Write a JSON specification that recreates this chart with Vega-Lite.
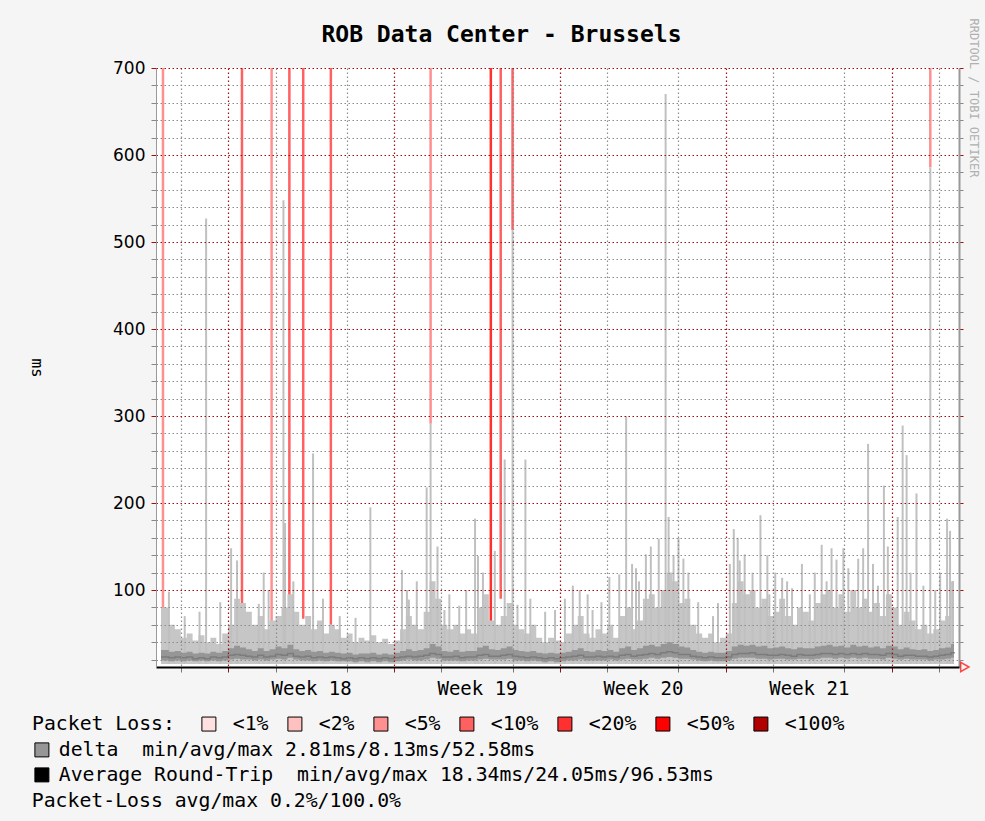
{
  "$schema": "https://vega.github.io/schema/vega-lite/v6.json",
  "width": 803,
  "height": 599,
  "autosize": "none",
  "padding": {"left": 156, "top": 68, "right": 26, "bottom": 154},
  "background": "#f5f5f5",
  "title": {"text": "ROB Data Center - Brussels", "font": "DejaVu Sans Mono", "fontSize": 23, "fontWeight": "bold", "color": "#000000", "anchor": "middle", "frame": "group", "dx": -56, "baseline": "alphabetic", "offset": -47},
  "config": {
    "view": {"fill": "#ffffff", "stroke": null},
    "legend": {"labelFont": "DejaVu Sans Mono", "labelFontSize": 19.8, "labelColor": "#000000", "titleFont": "DejaVu Sans Mono", "titleFontSize": 19.8, "titleFontWeight": "normal", "titleColor": "#000000", "padding": 0, "labelLimit": 900}
  },
  "datasets": {
    "base": [
      {"t":-2.8333,"hi":80,"lo":19,"md":23,"up":31},
      {"t":-2.75,"hi":80,"lo":19,"md":23,"up":31},{"t":-2.5,"hi":60,"lo":18,"md":22,"up":29},{"t":-2.25,"hi":55,"lo":19,"md":23,"up":30},{"t":-2.0,"hi":45,"lo":18,"md":22,"up":28},
      {"t":-1.75,"hi":50,"lo":19,"md":23,"up":29},{"t":-1.5,"hi":42,"lo":18,"md":21,"up":27},{"t":-1.25,"hi":48,"lo":19,"md":22,"up":28},{"t":-1.0,"hi":40,"lo":18,"md":21,"up":27},
      {"t":-0.75,"hi":45,"lo":19,"md":23,"up":29},{"t":-0.5,"hi":38,"lo":18,"md":22,"up":28},{"t":-0.25,"hi":50,"lo":19,"md":23,"up":30},{"t":0,"hi":60,"lo":20,"md":25,"up":33},
      {"t":0.25,"hi":90,"lo":21,"md":26,"up":36},{"t":0.5,"hi":85,"lo":20,"md":25,"up":34},{"t":0.75,"hi":75,"lo":20,"md":24,"up":32},{"t":1.0,"hi":60,"lo":19,"md":23,"up":30},
      {"t":1.25,"hi":70,"lo":20,"md":25,"up":33},{"t":1.5,"hi":55,"lo":19,"md":23,"up":30},{"t":1.75,"hi":65,"lo":20,"md":24,"up":32},{"t":2.0,"hi":70,"lo":21,"md":26,"up":35},
      {"t":2.25,"hi":80,"lo":20,"md":25,"up":33},{"t":2.5,"hi":95,"lo":22,"md":27,"up":37},{"t":2.75,"hi":75,"lo":20,"md":24,"up":32},{"t":3.0,"hi":60,"lo":19,"md":23,"up":30},
      {"t":3.25,"hi":70,"lo":19,"md":24,"up":31},{"t":3.5,"hi":55,"lo":18,"md":22,"up":29},{"t":3.75,"hi":65,"lo":19,"md":23,"up":30},{"t":4.0,"hi":50,"lo":18,"md":22,"up":28},
      {"t":4.25,"hi":60,"lo":19,"md":23,"up":29},{"t":4.5,"hi":55,"lo":18,"md":22,"up":28},{"t":4.75,"hi":45,"lo":18,"md":21,"up":27},{"t":5.0,"hi":50,"lo":18,"md":22,"up":28},
      {"t":5.25,"hi":40,"lo":17,"md":21,"up":26},{"t":5.5,"hi":45,"lo":18,"md":22,"up":27},{"t":5.75,"hi":42,"lo":17,"md":21,"up":27},{"t":6.0,"hi":48,"lo":18,"md":22,"up":28},
      {"t":6.25,"hi":40,"lo":17,"md":21,"up":26},{"t":6.5,"hi":44,"lo":18,"md":22,"up":27},{"t":6.75,"hi":38,"lo":17,"md":21,"up":26},{"t":7.0,"hi":42,"lo":18,"md":22,"up":28},
      {"t":7.25,"hi":55,"lo":19,"md":23,"up":30},{"t":7.5,"hi":70,"lo":20,"md":24,"up":32},{"t":7.75,"hi":60,"lo":19,"md":23,"up":30},{"t":8.0,"hi":55,"lo":19,"md":24,"up":31},
      {"t":8.25,"hi":75,"lo":20,"md":25,"up":33},{"t":8.5,"hi":110,"lo":22,"md":27,"up":38},{"t":8.75,"hi":90,"lo":21,"md":26,"up":35},{"t":9.0,"hi":60,"lo":19,"md":23,"up":30},
      {"t":9.25,"hi":55,"lo":19,"md":23,"up":29},{"t":9.5,"hi":60,"lo":19,"md":24,"up":31},{"t":9.75,"hi":50,"lo":18,"md":22,"up":29},{"t":10.0,"hi":55,"lo":19,"md":23,"up":30},
      {"t":10.25,"hi":50,"lo":19,"md":23,"up":30},{"t":10.5,"hi":80,"lo":20,"md":25,"up":34},{"t":10.75,"hi":95,"lo":21,"md":26,"up":36},{"t":11.0,"hi":65,"lo":20,"md":24,"up":32},
      {"t":11.25,"hi":60,"lo":20,"md":24,"up":31},{"t":11.5,"hi":70,"lo":20,"md":25,"up":33},{"t":11.75,"hi":85,"lo":21,"md":26,"up":35},{"t":12.0,"hi":60,"lo":19,"md":24,"up":31},
      {"t":12.25,"hi":55,"lo":19,"md":23,"up":30},{"t":12.5,"hi":50,"lo":18,"md":22,"up":29},{"t":12.75,"hi":60,"lo":19,"md":23,"up":30},{"t":13.0,"hi":45,"lo":18,"md":22,"up":28},
      {"t":13.25,"hi":40,"lo":17,"md":21,"up":27},{"t":13.5,"hi":45,"lo":18,"md":22,"up":28},{"t":13.75,"hi":42,"lo":17,"md":21,"up":27},{"t":14.0,"hi":40,"lo":18,"md":22,"up":28},
      {"t":14.25,"hi":50,"lo":19,"md":23,"up":29},{"t":14.5,"hi":60,"lo":19,"md":24,"up":31},{"t":14.75,"hi":70,"lo":20,"md":25,"up":33},{"t":15.0,"hi":50,"lo":19,"md":23,"up":30},
      {"t":15.25,"hi":45,"lo":19,"md":23,"up":29},{"t":15.5,"hi":55,"lo":19,"md":24,"up":31},{"t":15.75,"hi":50,"lo":19,"md":23,"up":30},{"t":16.0,"hi":60,"lo":20,"md":24,"up":31},
      {"t":16.25,"hi":45,"lo":19,"md":23,"up":29},{"t":16.5,"hi":70,"lo":20,"md":25,"up":33},{"t":16.75,"hi":80,"lo":21,"md":26,"up":35},{"t":17.0,"hi":55,"lo":20,"md":24,"up":31},
      {"t":17.25,"hi":65,"lo":20,"md":25,"up":33},{"t":17.5,"hi":90,"lo":21,"md":26,"up":36},{"t":17.75,"hi":95,"lo":22,"md":27,"up":37},{"t":18.0,"hi":80,"lo":21,"md":26,"up":35},
      {"t":18.25,"hi":100,"lo":22,"md":28,"up":38},{"t":18.5,"hi":120,"lo":23,"md":29,"up":40},{"t":18.75,"hi":110,"lo":22,"md":28,"up":38},{"t":19.0,"hi":85,"lo":21,"md":26,"up":35},
      {"t":19.25,"hi":90,"lo":21,"md":26,"up":34},{"t":19.5,"hi":60,"lo":20,"md":24,"up":31},{"t":19.75,"hi":50,"lo":19,"md":23,"up":29},{"t":20.0,"hi":45,"lo":18,"md":22,"up":28},
      {"t":20.25,"hi":50,"lo":19,"md":23,"up":29},{"t":20.5,"hi":40,"lo":18,"md":22,"up":28},{"t":20.75,"hi":45,"lo":18,"md":22,"up":28},{"t":21.0,"hi":50,"lo":19,"md":23,"up":30},
      {"t":21.25,"hi":85,"lo":21,"md":26,"up":35},{"t":21.5,"hi":110,"lo":22,"md":27,"up":37},{"t":21.75,"hi":95,"lo":22,"md":27,"up":36},{"t":22.0,"hi":100,"lo":22,"md":28,"up":37},
      {"t":22.25,"hi":80,"lo":21,"md":26,"up":35},{"t":22.5,"hi":90,"lo":21,"md":26,"up":36},{"t":22.75,"hi":70,"lo":20,"md":25,"up":33},{"t":23.0,"hi":75,"lo":21,"md":25,"up":34},
      {"t":23.25,"hi":90,"lo":21,"md":26,"up":35},{"t":23.5,"hi":70,"lo":20,"md":25,"up":33},{"t":23.75,"hi":60,"lo":20,"md":24,"up":32},{"t":24.0,"hi":80,"lo":21,"md":26,"up":34},
      {"t":24.25,"hi":75,"lo":21,"md":25,"up":33},{"t":24.5,"hi":65,"lo":20,"md":25,"up":33},{"t":24.75,"hi":85,"lo":21,"md":26,"up":35},{"t":25.0,"hi":95,"lo":22,"md":27,"up":36},
      {"t":25.25,"hi":100,"lo":22,"md":27,"up":37},{"t":25.5,"hi":80,"lo":21,"md":26,"up":35},{"t":25.75,"hi":95,"lo":22,"md":27,"up":36},{"t":26.0,"hi":75,"lo":21,"md":26,"up":34},
      {"t":26.25,"hi":100,"lo":22,"md":27,"up":37},{"t":26.5,"hi":80,"lo":21,"md":26,"up":35},{"t":26.75,"hi":90,"lo":22,"md":27,"up":36},{"t":27.0,"hi":75,"lo":21,"md":26,"up":34},
      {"t":27.25,"hi":85,"lo":21,"md":26,"up":35},{"t":27.5,"hi":70,"lo":20,"md":25,"up":33},{"t":27.75,"hi":95,"lo":22,"md":27,"up":36},{"t":28.0,"hi":80,"lo":21,"md":26,"up":35},
      {"t":28.25,"hi":60,"lo":20,"md":24,"up":32},{"t":28.5,"hi":75,"lo":21,"md":25,"up":34},{"t":28.75,"hi":65,"lo":20,"md":25,"up":32},{"t":29.0,"hi":55,"lo":20,"md":24,"up":31},
      {"t":29.25,"hi":60,"lo":20,"md":24,"up":32},{"t":29.5,"hi":50,"lo":19,"md":23,"up":30},{"t":29.75,"hi":55,"lo":20,"md":24,"up":31},{"t":30.0,"hi":65,"lo":20,"md":25,"up":33},
      {"t":30.25,"hi":70,"lo":21,"md":26,"up":34},{"t":30.5,"hi":110,"lo":22,"md":28,"up":38},{"t":30.625,"hi":90,"lo":21,"md":27,"up":36}
    ],
    "spikes": [
      {"t":-2.5,"hi":98},{"t":-1.833,"hi":70},{"t":-1.208,"hi":75},{"t":-0.93,"hi":527},{"t":-0.333,"hi":86},{"t":0.125,"hi":148},{"t":0.375,"hi":134},
      {"t":1.292,"hi":84},{"t":1.5,"hi":120},{"t":1.708,"hi":100},{"t":2.333,"hi":548},{"t":2.4,"hi":177},{"t":2.75,"hi":110},{"t":3.583,"hi":257},
      {"t":4.0,"hi":90},{"t":4.708,"hi":70},{"t":5.375,"hi":68},{"t":6.0,"hi":195},{"t":7.333,"hi":123},{"t":7.542,"hi":100},{"t":7.625,"hi":89},
      {"t":7.958,"hi":110},{"t":8.375,"hi":218},{"t":8.542,"hi":291},{"t":8.833,"hi":150},{"t":9.125,"hi":77},{"t":9.333,"hi":95},{"t":9.75,"hi":82},
      {"t":10.042,"hi":100},{"t":10.417,"hi":182},{"t":10.542,"hi":139},{"t":10.75,"hi":120},{"t":11.25,"hi":145},{"t":11.667,"hi":250},{"t":12.0,"hi":514},
      {"t":12.208,"hi":83},{"t":12.542,"hi":250},{"t":12.75,"hi":90},{"t":13.375,"hi":75},{"t":13.792,"hi":77},{"t":14.208,"hi":90},{"t":14.542,"hi":105},
      {"t":14.833,"hi":100},{"t":15.167,"hi":95},{"t":15.375,"hi":77},{"t":15.75,"hi":86},{"t":16.083,"hi":115},{"t":16.5,"hi":118},{"t":16.792,"hi":300},
      {"t":17.042,"hi":130},{"t":17.208,"hi":125},{"t":17.333,"hi":110},{"t":17.625,"hi":141},{"t":17.833,"hi":150},{"t":18.167,"hi":159},{"t":18.458,"hi":670},
      {"t":18.583,"hi":184},{"t":18.792,"hi":140},{"t":19.0,"hi":160},{"t":19.208,"hi":136},{"t":19.417,"hi":120},{"t":19.833,"hi":86},{"t":20.458,"hi":70},
      {"t":20.667,"hi":85},{"t":21.167,"hi":130},{"t":21.333,"hi":170},{"t":21.5,"hi":160},{"t":21.583,"hi":134},{"t":21.792,"hi":141},{"t":22.125,"hi":120},
      {"t":22.458,"hi":186},{"t":22.75,"hi":140},{"t":22.833,"hi":95},{"t":23.083,"hi":120},{"t":23.375,"hi":114},{"t":23.583,"hi":110},{"t":23.792,"hi":102},
      {"t":24.208,"hi":130},{"t":24.542,"hi":95},{"t":24.75,"hi":120},{"t":25.042,"hi":152},{"t":25.25,"hi":110},{"t":25.458,"hi":148},{"t":25.667,"hi":135},
      {"t":25.958,"hi":148},{"t":26.167,"hi":125},{"t":26.583,"hi":136},{"t":26.792,"hi":148},{"t":27.0,"hi":268},{"t":27.208,"hi":130},{"t":27.417,"hi":105},
      {"t":27.667,"hi":220},{"t":27.833,"hi":150},{"t":28.25,"hi":184},{"t":28.458,"hi":289},{"t":28.625,"hi":255},{"t":28.792,"hi":120},{"t":29.042,"hi":211},
      {"t":29.333,"hi":105},{"t":29.625,"hi":586},{"t":29.833,"hi":100},{"t":30.042,"hi":120},{"t":30.333,"hi":182},{"t":30.458,"hi":168},{"t":30.583,"hi":110}
    ],
    "loss": [
      {"t":-2.75,"lo":71,"loss":"<5%"},{"t":0.583,"lo":63,"loss":"<10%"},{"t":1.833,"lo":52,"loss":"<5%"},{"t":2.583,"lo":77,"loss":"<10%"},
      {"t":3.167,"lo":67,"loss":"<10%"},{"t":4.333,"lo":60,"loss":"<10%"},{"t":8.542,"lo":291,"loss":"<5%"},{"t":11.083,"lo":45,"loss":"<20%"},
      {"t":11.5,"lo":90,"loss":"<10%"},{"t":12.0,"lo":514,"loss":"<10%"},{"t":29.625,"lo":586,"loss":"<5%"}
    ]
  },
  "resolve": {"axis": {"y": "independent"}},
  "layer": [
    {
      "data": {"name": "loss"},
      "mark": {"type": "bar", "size": 2.5, "orient": "vertical"},
      "encoding": {
        "x": {"field": "t", "type": "quantitative", "scale": {"domain": [-2.8333, 30.625], "nice": false, "zero": false},
          "axis": {"title": null, "zindex": 1,
            "values": [-2,-1,0,1,2,3,3.5,4,5,6,7,8,9,10,10.5,11,12,13,14,15,16,17,17.5,18,19,20,21,22,23,24,24.5,25,26,27,28,29,30],
            "labelExpr": "datum.value % 7 == 3.5 ? 'Week ' + (18 + floor(datum.value / 7)) : ''",
            "labelFont": "DejaVu Sans Mono", "labelFontSize": 19, "labelColor": "#000000", "labelPadding": 7, "labelOverlap": false, "labelFlush": false, "labelBound": false,
            "domainColor": "#000000", "domainWidth": 2, "tickSize": 5,
            "tickColor": {"condition": {"test": "datum.value % 7 == 0", "value": "#a01010"}, "value": "#777777"},
            "tickOpacity": {"condition": {"test": "datum.value % 7 == 3.5", "value": 0}, "value": 1},
            "grid": true,
            "gridColor": {"condition": {"test": "datum.value % 7 == 0", "value": "#a01010"}, "value": "#8c8c8c"},
            "gridOpacity": {"condition": {"test": "datum.value % 7 == 3.5", "value": 0}, "value": 1},
            "gridDash": [1.5, 2.5], "gridWidth": 1.2}},
        "y": {"field": "lo", "type": "quantitative", "scale": {"domain": [11.5, 700], "nice": false, "zero": false},
          "axis": {"title": "ms", "zindex": 1,
            "values": [20,40,60,80,100,120,140,160,180,200,220,240,260,280,300,320,340,360,380,400,420,440,460,480,500,520,540,560,580,600,620,640,660,680,700],
            "labelExpr": "datum.value % 100 == 0 ? datum.label : ''",
            "labelFont": "DejaVu Sans", "labelFontSize": 17, "labelColor": "#000000", "labelPadding": 6, "labelOverlap": false, "labelFlush": false,
            "domainColor": "#999999", "tickSize": 5,
            "tickColor": {"condition": {"test": "datum.value % 100 == 0", "value": "#a01010"}, "value": "#888888"},
            "grid": true,
            "gridColor": {"condition": {"test": "datum.value % 100 == 0", "value": "#a01010"}, "value": "#8c8c8c"},
            "gridDash": [1.5, 2.5], "gridWidth": 1.2,
            "titleFont": "DejaVu Sans Mono", "titleFontSize": 16, "titleFontWeight": "normal", "titleColor": "#000000",
            "titleX": -120, "titleAngle": 90, "titleBaseline": "middle"}},
        "y2": {"datum": 700},
        "color": {"field": "loss", "type": "nominal",
          "scale": {"domain": ["<1%", "<2%", "<5%", "<10%", "<20%", "<50%", "<100%"], "range": ["#ffe0e0", "#ffc0c0", "#ff9090", "#ff6060", "#ff3030", "#ff0000", "#b00000"]},
          "legend": {"orient": "none", "legendX": -124, "legendY": 646, "direction": "horizontal", "title": "Packet Loss:", "titleOrient": "left", "titlePadding": 24,
            "symbolType": "square", "symbolSize": 196, "symbolStrokeColor": "#000000", "symbolStrokeWidth": 1, "symbolOpacity": 1,
            "labelOffset": 14, "columnPadding": 16}}
      }
    },
    {
      "data": {"name": "base"},
      "mark": {"type": "area", "interpolate": "step-after", "color": "#c6c6c6"},
      "encoding": {
        "x": {"field": "t", "type": "quantitative", "scale": {"domain": [-2.8333, 30.625], "nice": false, "zero": false}},
        "y": {"field": "hi", "type": "quantitative", "scale": {"domain": [11.5, 700], "nice": false, "zero": false}, "axis": null},
        "y2": {"datum": 15}
      }
    },
    {
      "data": {"name": "spikes"},
      "mark": {"type": "bar", "size": 2, "orient": "vertical", "color": "#c0c0c0"},
      "encoding": {
        "x": {"field": "t", "type": "quantitative", "scale": {"domain": [-2.8333, 30.625], "nice": false, "zero": false}},
        "y": {"field": "hi", "type": "quantitative", "scale": {"domain": [11.5, 700], "nice": false, "zero": false}, "axis": null},
        "y2": {"datum": 15}
      }
    },
    {
      "data": {"name": "base"},
      "mark": {"type": "area", "interpolate": "step-after"},
      "encoding": {
        "x": {"field": "t", "type": "quantitative", "scale": {"domain": [-2.8333, 30.625], "nice": false, "zero": false}},
        "y": {"field": "up", "type": "quantitative", "scale": {"domain": [11.5, 700], "nice": false, "zero": false}, "axis": null},
        "y2": {"field": "lo"},
        "fill": {"datum": "delta\u00a0 min/avg/max 2.81ms/8.13ms/52.58ms", "type": "nominal",
          "scale": {"domain": ["delta\u00a0 min/avg/max 2.81ms/8.13ms/52.58ms", "Average Round-Trip\u00a0 min/avg/max 18.34ms/24.05ms/96.53ms"], "range": ["#969696", "#000000"]},
          "legend": {"orient": "none", "legendX": -124, "legendY": 672, "direction": "vertical", "title": null,
            "symbolType": "square", "symbolSize": 196, "symbolStrokeColor": "#000000", "symbolStrokeWidth": 1, "symbolOpacity": 1,
            "labelOffset": 7, "rowPadding": 4}}
      }
    },
    {
      "data": {"name": "base"},
      "mark": {"type": "line", "interpolate": "step-after", "color": "#7c7c7c", "strokeWidth": 1.5},
      "encoding": {
        "x": {"field": "t", "type": "quantitative", "scale": {"domain": [-2.8333, 30.625], "nice": false, "zero": false}},
        "y": {"field": "md", "type": "quantitative", "scale": {"domain": [11.5, 700], "nice": false, "zero": false},
          "axis": {"orient": "right", "title": "RRDTOOL / TOBI OETIKER", "labels": false, "grid": false,
            "values": [20,40,60,80,100,120,140,160,180,200,220,240,260,280,300,320,340,360,380,400,420,440,460,480,500,520,540,560,580,600,620,640,660,680,700],
            "domainColor": "#999999", "domainWidth": 2, "tickSize": 4,
            "tickColor": {"condition": {"test": "datum.value % 100 == 0", "value": "#a01010"}, "value": "#888888"},
            "titleFont": "DejaVu Sans Mono", "titleFontSize": 12, "titleFontWeight": "normal", "titleColor": "#b0b0b0",
            "titleAngle": 90, "titleX": 14, "titleY": -50, "titleAlign": "left", "titleBaseline": "middle"}},
        "strokeDash": {"datum": "Packet-Loss avg/max 0.2%/100.0%", "type": "nominal",
          "legend": {"orient": "none", "legendX": -144, "legendY": 723, "title": null, "symbolOpacity": 0, "symbolSize": 1, "symbolStrokeWidth": 0, "labelOffset": 0}}
      }
    },
    {
      "data": {"values": [{}]},
      "mark": {"type": "point", "shape": "triangle-right", "filled": false, "stroke": "#ff0000", "strokeWidth": 1.5, "size": 90, "clip": false},
      "encoding": {
        "x": {"datum": 31.08, "type": "quantitative", "scale": {"domain": [-2.8333, 30.625], "nice": false, "zero": false}},
        "y": {"datum": 11.5, "type": "quantitative", "scale": {"domain": [11.5, 700], "nice": false, "zero": false}, "axis": null}
      }
    }
  ]
}
